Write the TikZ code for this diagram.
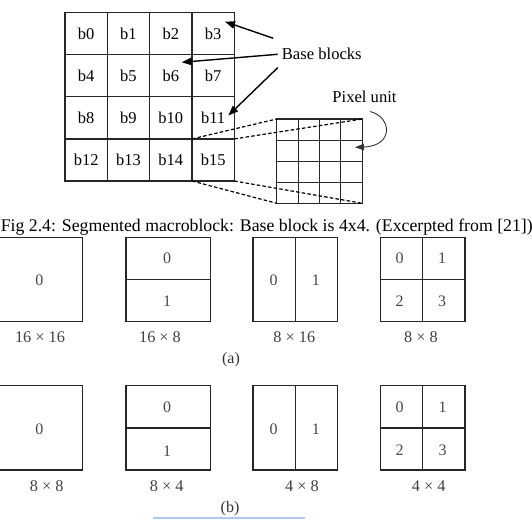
\documentclass[tikz,border=0pt]{standalone}
\usepackage{fontspec}
\setmainfont{Liberation Serif}
\usetikzlibrary{arrows.meta,calc}
\begin{document}
\begin{tikzpicture}[x=1pt,y=-1pt,
  cell/.style={draw=black!85,line width=1.2pt,minimum width=42.33pt,minimum height=42.1pt,inner sep=0pt,outer sep=0pt,font=\fontsize{16.5}{18}\selectfont},
  pixbox/.style={draw=black!85,line width=1.2pt,minimum width=85.6pt,minimum height=84.3pt,inner sep=0pt,outer sep=0pt},
  pixline/.style={draw=black!85,line width=1.1pt},
  proj/.style={draw=black,line width=1.2pt,dash pattern=on 3.5pt off 2.2pt},
  lbl/.style={inner sep=0pt,font=\fontsize{16.6}{18}\selectfont},
  pointer/.style={draw=black,line width=1.4pt,-{Triangle[length=10pt,width=7.5pt]}},
  curvepointer/.style={draw=black!80,line width=0.9pt,-{Triangle[length=9pt,width=6.5pt]}},
  mb/.style={draw=black!85,line width=1.3pt,minimum width=84.7pt,minimum height=84.4pt,inner sep=0pt,outer sep=0pt},
  split/.style={draw=black!85,line width=1.3pt},
  dig/.style={inner sep=0pt,text=black!72,font=\fontsize{16}{18}\selectfont},
  dim/.style={inner sep=0pt,text=black!75,font=\fontsize{16.3}{18}\selectfont},
  sub/.style={inner sep=0pt,text=black!80,font=\fontsize{16}{18}\selectfont}
]
\useasboundingbox (0,0) rectangle (532,519);

% ---- base block grid ----
\foreach \r in {0,...,3}{
  \foreach \c in {0,...,3}{
    \pgfmathtruncatemacro\n{4*\r+\c}
    \node[cell] (b\n) at ({65+42.33*(\c+0.5)},{12.6+42.1*(\r+0.5)}) {b\n};
  }
}

% ---- pixel unit grid ----
\node[pixbox] (pix) at (319.5,161.15) {};
\foreach \k in {1,2,3}{
  \draw[pixline] ($(pix.north west)!\k/4!(pix.north east)$) -- ($(pix.south west)!\k/4!(pix.south east)$);
  \draw[pixline] ($(pix.north west)!\k/4!(pix.south west)$) -- ($(pix.north east)!\k/4!(pix.south east)$);
}

% ---- projection lines ----
\draw[proj] (b15.north west) -- (pix.north west);
\draw[proj] (b15.north east) -- (pix.north east);
\draw[proj] (b15.south west) -- (pix.south west);
\draw[proj] (b15.south east) -- (pix.south east);

% ---- labels and pointers ----
\node[lbl,anchor=base] (bb) at (321.8,59.3) {Base blocks};
\coordinate (s1) at (273.3,38.3);
\coordinate (t1) at (225,21.7);
\coordinate (s2) at (277.7,54.3);
\coordinate (t2) at (181.7,62.3);
\coordinate (s3) at (277.7,67.7);
\coordinate (t3) at (228.3,115.5);
\draw[pointer] (s1) -- (t1);
\draw[pointer] (s2) -- (t2);
\draw[pointer] (s3) -- (t3);

\node[lbl,anchor=base] (pu) at (364.5,102.7) {Pixel unit};
\coordinate (c1) at (370,111.5);
\coordinate (c2) at (355,147.3);
\draw[curvepointer] (c1) .. controls (392,117) and (394,146) .. (c2);

% ---- caption ----
\node[inner sep=0pt,anchor=base west,font=\fontsize{17.75}{20}\selectfont] (cap) at (0.6,231.7)
  {Fig 2.4: Segmented macroblock: Base block is 4x4. (Excerpted from [21])};

% ---- row (a) ----
\node[mb] (a1) at (40.35,279.5) {};
\node[mb] (a2) at (168.2,279.5) {};
\node[mb] (a3) at (295.25,279.5) {};
\node[mb] (a4) at (422.5,279.5) {};
\draw[split] (a2.west) -- (a2.east);
\draw[split] (a3.north) -- (a3.south);
\draw[split] (a4.west) -- (a4.east);
\draw[split] (a4.north) -- (a4.south);

\node[dig] (a1l0) at (39.3,280.5) {0};
\node[dig] (a2l0) at (167,258.4) {0};
\node[dig] (a2l1) at (167,300.8) {1};
\node[dig] (a3l0) at (273.5,280.5) {0};
\node[dig] (a3l1) at (315.8,280.5) {1};
\node[dig] (a4l0) at (399.5,258.4) {0};
\node[dig] (a4l1) at (442.2,258.4) {1};
\node[dig] (a4l2) at (399.5,300.8) {2};
\node[dig] (a4l3) at (442.2,300.8) {3};

\node[dim] (ad1) at (40,336.7) {16 × 16};
\node[dim] (ad2) at (160,336.7) {16 × 8};
\node[dim] (ad3) at (294.3,336.7) {8 × 16};
\node[dim] (ad4) at (421,336.7) {8 × 8};
\node[sub] (suba) at (231,359.3) {(a)};

% ---- row (b) ----
\node[mb] (c1b) at (40.35,427.85) {};
\node[mb] (c2b) at (168.2,427.85) {};
\node[mb] (c3b) at (295.25,427.85) {};
\node[mb] (c4b) at (422.5,427.85) {};
\draw[split] (c2b.west) -- (c2b.east);
\draw[split] (c3b.north) -- (c3b.south);
\draw[split] (c4b.west) -- (c4b.east);
\draw[split] (c4b.north) -- (c4b.south);

\node[dig] (b1l0) at (39.3,429.3) {0};
\node[dig] (b2l0) at (167,407.7) {0};
\node[dig] (b2l1) at (167,451) {1};
\node[dig] (b3l0) at (273.5,429.3) {0};
\node[dig] (b3l1) at (315.8,429.3) {1};
\node[dig] (b4l0) at (399.7,407.7) {0};
\node[dig] (b4l1) at (442.7,407.7) {1};
\node[dig] (b4l2) at (399.7,450) {2};
\node[dig] (b4l3) at (442.7,450) {3};

\node[dim] (bd1) at (46.7,485.7) {8 × 8};
\node[dim] (bd2) at (166.7,485.7) {8 × 4};
\node[dim] (bd3) at (302,485.7) {4 × 8};
\node[dim] (bd4) at (428.7,485.7) {4 × 4};
\node[sub] (subb) at (230,508.3) {(b)};

% ---- faint blue band at bottom edge ----
\fill[fill={rgb,255:red,178;green,198;blue,242}] (153,516.8) rectangle (305,519);
\end{tikzpicture}
\end{document}
